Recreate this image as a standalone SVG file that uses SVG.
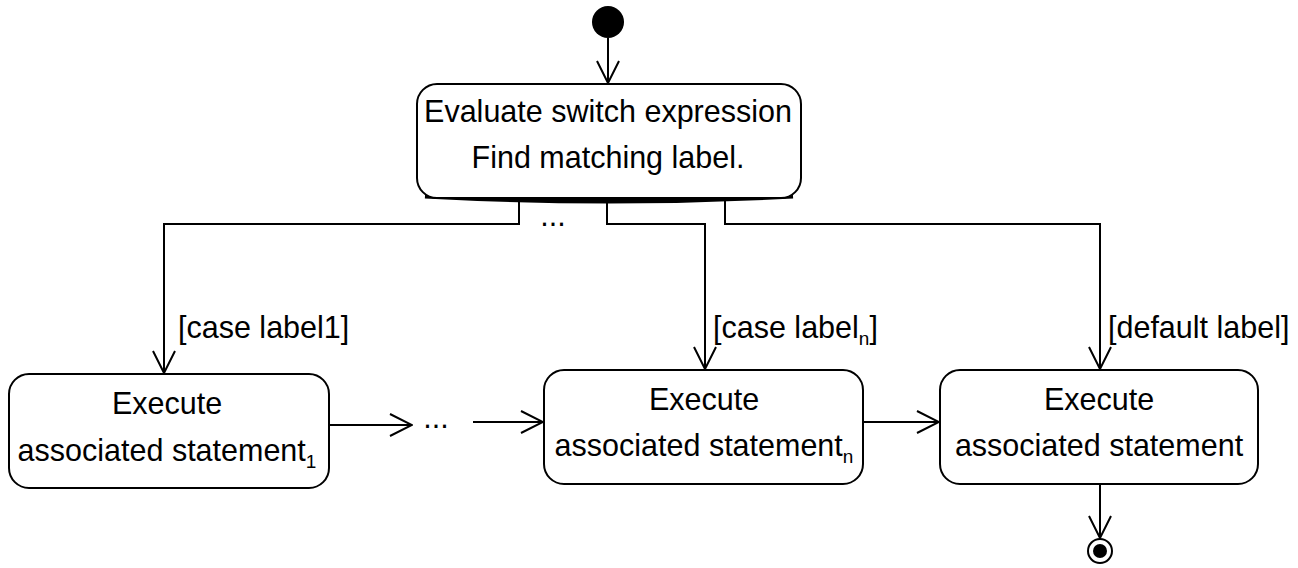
<svg xmlns="http://www.w3.org/2000/svg" width="1298" height="568" viewBox="0 0 1298 568">
<style>
.box{fill:#fff;stroke:#000;stroke-width:2}
.t{font-family:"Liberation Sans",Arial,sans-serif;font-size:30.5px;fill:#000}
.c{stroke:#000;stroke-width:2;fill:none}
</style>
<defs>
<marker id="a" viewBox="0 0 24 24" refX="23" refY="12" markerWidth="24" markerHeight="24" markerUnits="userSpaceOnUse" orient="auto">
<path d="M1,1 L23,12 L1,23" fill="none" stroke="#000" stroke-width="2"/>
</marker>
</defs>
<g id="start"><circle cx="608" cy="22" r="16" fill="#000"/></g>
<g id="eval">
<path d="M425,196 Q609,206 793,196" stroke="#000" stroke-width="5" fill="none"/>
<rect class="box" x="417" y="84" width="384" height="114" rx="20"/>
<text class="t" x="608" y="122" text-anchor="middle">Evaluate switch expression</text>
<text class="t" x="608" y="168" text-anchor="middle">Find matching label.</text>
</g>
<g id="exec1">
<rect class="box" x="9" y="374" width="320" height="114" rx="20"/>
<text class="t" x="167" y="414" text-anchor="middle">Execute</text>
<text class="t" x="167" y="461" text-anchor="middle">associated statement<tspan font-size="19" dy="7">1</tspan></text>
</g>
<g id="execn">
<rect class="box" x="544" y="370" width="319" height="114" rx="20"/>
<text class="t" x="704" y="410" text-anchor="middle">Execute</text>
<text class="t" x="704" y="456" text-anchor="middle">associated statement<tspan font-size="19" dy="7">n</tspan></text>
</g>
<g id="execd">
<rect class="box" x="940" y="370" width="318" height="114" rx="20"/>
<text class="t" x="1099" y="410" text-anchor="middle">Execute</text>
<text class="t" x="1099" y="456" text-anchor="middle">associated statement</text>
</g>
<g id="end">
<circle cx="1100" cy="551" r="12" fill="#fff" stroke="#000" stroke-width="2"/>
<circle cx="1100" cy="551" r="7" fill="#000"/>
</g>
<g id="connectors">
<path class="c" d="M608,38 L608,83" marker-end="url(#a)"/>
<path class="c" d="M519,200 L519,224 L164,224 L164,373" marker-end="url(#a)"/>
<path class="c" d="M607,200 L607,224 L705,224 L705,369" marker-end="url(#a)"/>
<path class="c" d="M725,200 L725,224 L1100,224 L1100,369" marker-end="url(#a)"/>
<path class="c" d="M329,425 L412,425" marker-end="url(#a)"/>
<path class="c" d="M473,422 L543,422" marker-end="url(#a)"/>
<path class="c" d="M863,422 L939,422" marker-end="url(#a)"/>
<path class="c" d="M1100,484 L1100,538" marker-end="url(#a)"/>
<text class="t" x="553" y="226" text-anchor="middle">...</text>
<text class="t" x="436" y="428" text-anchor="middle">...</text>
<text class="t" x="178" y="338">[case label1]</text>
<text class="t" x="713" y="338">[case label<tspan font-size="19" dy="7">n</tspan><tspan dy="-7">]</tspan></text>
<text class="t" x="1108" y="338">[default label]</text>
</g>
</svg>
